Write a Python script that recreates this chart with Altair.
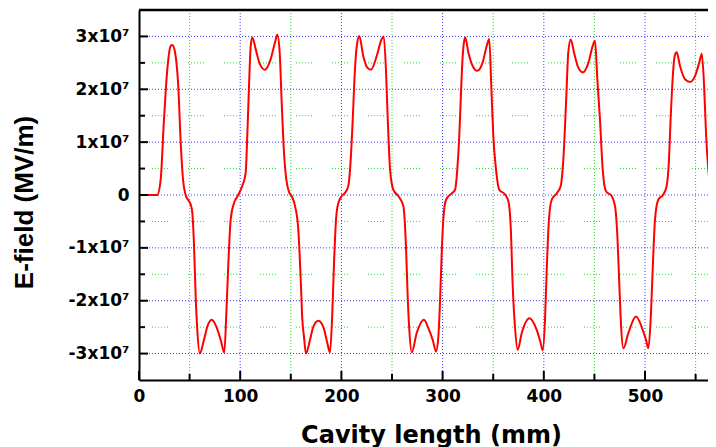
import altair as alt
import pandas as pd

# ---------------- data ----------------
cavity_mm = [
    0, 10, 18, 21.4, 24.7, 28, 31.3, 32.9, 35.6, 38.8, 41.2, 43.5, 46.1, 49.4, 51.1, 52.7,
    54.4, 56, 57.6, 60, 64.2, 67.5, 71.8, 76.4, 80.7, 84.3, 86.3, 88.3, 90.6, 93.9, 97.5,
    102, 105.4, 107, 108.7, 110.4, 112, 115.3, 119.3, 124.5, 130.1, 134.4, 136.7, 139, 141,
    143.3, 145.6, 148.2, 150.9, 154.2, 157.4, 159.8, 161.4, 163, 165, 169, 172.3, 177.3,
    182.5, 186.1, 188.7, 191, 192.7, 194.7, 197, 200.3, 203.6, 206.8, 209.2, 211.2, 213.4,
    215.7, 217.7, 221.6, 225.6, 229.2, 234.9, 239.8, 241.8, 244, 245.8, 248.1, 251.3, 256.2,
    261.2, 263.8, 265.5, 267.1, 269.5, 274.4, 281.6, 285.9, 290.2, 293.5, 295.8, 297.4,
    299.1, 300.7, 303.4, 309, 312.3, 314.5, 316.5, 317.8, 319.5, 321.1, 322.4, 325.4, 329.7,
    334.3, 339.6, 343.6, 346.1, 348.1, 350.1, 352.8, 356, 361.7, 365, 367.3, 369.3, 371.5,
    374.2, 378.2, 385.7, 393, 396.9, 398.9, 401.2, 402.9, 405.1, 407.8, 412.7, 416.7, 419.3,
    422, 424.2, 426.6, 429.8, 434.1, 438.6, 444.2, 448.3, 450.6, 452.9, 455.5, 458.2, 461.5,
    467.1, 470.4, 472.7, 474.7, 476.4, 478.6, 483.6, 491.1, 497.7, 501, 503.3, 505.6, 507.6,
    509.9, 513.1, 518.1, 521.4, 523.7, 525.3, 527.3, 529.3, 531.3, 534.6, 539.5, 544.5,
    549.4, 553.7, 556.1, 558.4, 560.4, 562.6, 565, 569.3,
]
# E-field in units of 1e7
e_field_1e7 = [
    0, 0, 0, 0.29, 1.43, 2.38, 2.82, 2.84, 2.70, 2.06, 1.0, 0.29, 0.0, -0.12, -0.18, -0.34,
    -0.97, -1.92, -2.55, -3.0, -2.74, -2.49, -2.36, -2.49, -2.74, -2.98, -2.24, -1.29, -0.46, -0.15, -0.02,
    0.17, 0.42, 1.12, 2.06, 2.82, 2.98, 2.76, 2.48, 2.37, 2.57, 2.89, 3.03, 2.70, 1.75,
    0.8, 0.29, 0.06, -0.02, -0.21, -0.65, -1.6, -2.36, -2.68, -3.0, -2.74, -2.49, -2.38,
    -2.52, -2.8, -2.98, -2.24, -1.29, -0.46, -0.15, -0.02, 0.04, 0.17, 0.67, 1.43, 2.38,
    2.89, 3.01, 2.63, 2.41, 2.37, 2.63, 2.95, 3.0, 2.38, 1.43, 0.48, 0.1, -0.02,
    -0.21, -0.97, -1.92, -2.55, -2.98, -2.61, -2.36, -2.52, -2.74, -2.96, -2.68, -2.05,
    -1.1, -0.46, -0.09, 0.03, 0.10, 0.48, 1.12, 1.75, 2.51, 2.89, 2.98, 2.70, 2.44,
    2.35, 2.51, 2.82, 2.95, 2.06, 1.12, 0.48, 0.1, 0.01, -0.12, -0.59, -1.73, -2.49,
    -2.93, -2.61, -2.33, -2.55, -2.8, -2.94, -2.36, -1.41, -0.46, -0.09, 0.03, 0.17, 0.67,
    1.75, 2.70, 2.94, 2.70, 2.41, 2.32, 2.51, 2.82, 2.92, 2.19, 1.43, 0.48, 0.07,
    -0.02, -0.21, -0.78, -1.73, -2.49, -2.90, -2.61, -2.30, -2.55, -2.74, -2.90, -2.36, -1.41,
    -0.46, -0.09, 0.01, 0.17, 0.67, 1.43, 2.19, 2.63, 2.70, 2.44, 2.19, 2.14,
    2.25, 2.51, 2.67, 2.06, 1.12, 0.48, 0.1, 0.01,
]

x_domain = [0, 562.25]
y_domain = [-3.5e7, 3.5e7]
x_major = [0, 100, 200, 300, 400, 500]
x_minor = [50, 150, 250, 350, 450, 550]
y_major = [-3e7, -2e7, -1e7, 0, 1e7, 2e7, 3e7]
y_minor = [-2.5e7, -1.5e7, -0.5e7, 0.5e7, 1.5e7, 2.5e7]
y_tick_labels = ["-3x10\u2077", "-2x10\u2077", "-1x10\u2077", "0", "1x10\u2077", "2x10\u2077", "3x10\u2077"]

# ---------------- tables ----------------
curve_df = pd.DataFrame({"x": cavity_mm, "y": [v * 1e7 for v in e_field_1e7]})
xmaj_df = pd.DataFrame({"x": x_major})
xmaj_grid_df = pd.DataFrame({"x": x_major[1:]})
xmin_df = pd.DataFrame({"x": x_minor})
ymaj_df = pd.DataFrame({"y": y_major})
ymin_df = pd.DataFrame({"y": y_minor})
top_df = pd.DataFrame({"y": [y_domain[1]]})

label_expr = "''"
for v, s in reversed(list(zip(y_major, y_tick_labels))):
    label_expr = f"datum.value == {int(v)} ? '{s}' : ({label_expr})"

xs = alt.Scale(domain=x_domain, nice=False, zero=False)
ys = alt.Scale(domain=y_domain, nice=False, zero=False)

x_axis = alt.Axis(
    values=x_major, format="d", ticks=False, tickSize=0, grid=False,
    domainColor="black", domainWidth=2, labelFlush=False, labelOverlap=False,
    labelFont="DejaVu Sans", labelFontWeight="bold", labelFontSize=17, labelColor="black",
    labelPadding=8,
    titleFont="DejaVu Sans", titleFontWeight="bold", titleFontSize=24, titleColor="black",
    titleX=292, titleY=62, titleBaseline="alphabetic",
)
y_axis = alt.Axis(
    values=y_major, labelExpr=label_expr, ticks=False, tickSize=0, grid=False,
    domainColor="black", domainWidth=2, labelFlush=False, labelOverlap=False,
    labelFont="DejaVu Sans", labelFontWeight="bold", labelFontSize=17, labelColor="black",
    labelPadding=10,
    titleFont="Liberation Sans", titleFontWeight="bold", titleFontSize=26, titleColor="black",
    titleX=-107, titleY=192, titleBaseline="alphabetic", titleAngle=270,
)

X = alt.X("x:Q", scale=xs, axis=x_axis, title="Cavity length (mm)")
Y = alt.Y("y:Q", scale=ys, axis=y_axis, title="E-field (MV/m)")

blue = "#3a3aff"
green = "#22dd22"

g_xmaj = alt.Chart(xmaj_grid_df).mark_rule(color=blue, strokeWidth=1, strokeDash=[1, 2]).encode(x=X)
g_xmin = alt.Chart(xmin_df).mark_rule(color=green, strokeWidth=1, strokeDash=[1, 2]).encode(x=X)
g_ymaj = alt.Chart(ymaj_df).mark_rule(color=blue, strokeWidth=1, strokeDash=[1, 2]).encode(y=Y)
g_ymin = alt.Chart(ymin_df).mark_rule(
    color=green, strokeWidth=1, strokeDash=[1, 2, 1, 2, 1, 2, 1, 2, 1, 2, 1, 20]
).encode(y=Y)

curve = alt.Chart(curve_df).mark_line(
    color="#ff0000", strokeWidth=2, interpolate="monotone", clip=True
).encode(x=X, y=Y, order=alt.Order("x:Q"))

t_ymaj = alt.Chart(ymaj_df).mark_rule(color="black", strokeWidth=2).encode(
    y=Y, x=alt.value(0), x2=alt.value(9)
)
t_ymin = alt.Chart(ymin_df).mark_rule(color="black", strokeWidth=2).encode(
    y=Y, x=alt.value(0), x2=alt.value(6)
)
t_xmaj = alt.Chart(xmaj_df).mark_rule(color="black", strokeWidth=2).encode(
    x=X, y=alt.value(370), y2=alt.value(361)
)
t_xmin = alt.Chart(xmin_df).mark_rule(color="black", strokeWidth=2).encode(
    x=X, y=alt.value(370), y2=alt.value(364)
)
top_line = alt.Chart(top_df).mark_rule(color="black", strokeWidth=2.5).encode(y=Y)

chart = alt.layer(
    g_xmaj, g_xmin, g_ymaj, g_ymin, curve, t_ymaj, t_ymin, t_xmaj, t_xmin, top_line
).properties(
    width=569, height=370,
    autosize=alt.AutoSizeParams(type="none"),
    padding={"left": 131, "top": 2, "right": 0, "bottom": 67},
    background="white",
).configure_view(stroke=None)

chart.save("out.html", embed_options={"renderer": "svg", "actions": False})
